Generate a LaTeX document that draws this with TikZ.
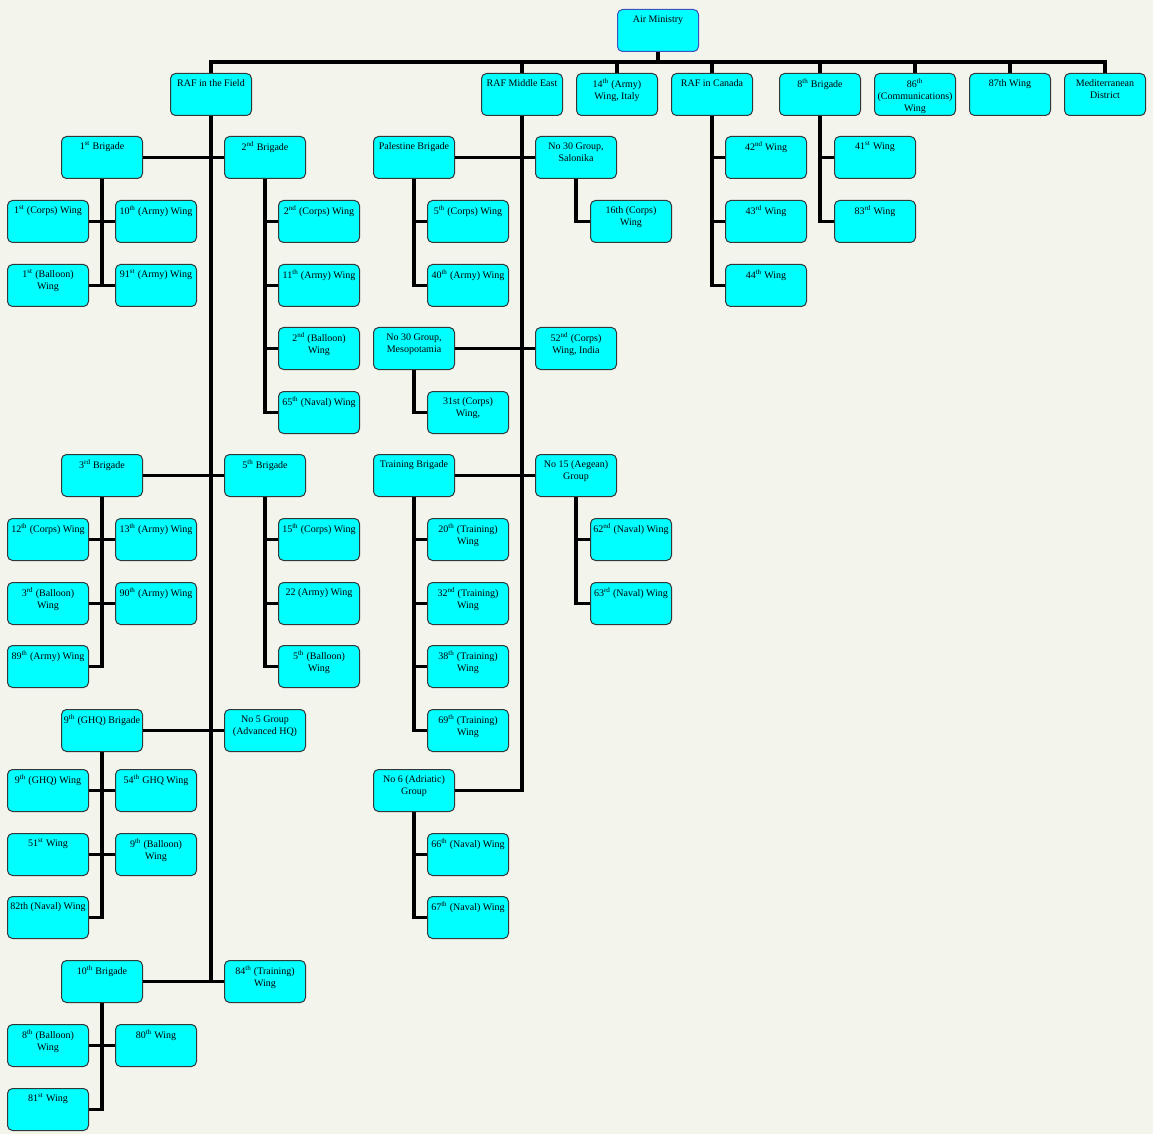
\documentclass[tikz,border=0pt]{standalone}
\usepackage{fontspec}
\setmainfont{Liberation Serif}
\usetikzlibrary{backgrounds}
\pgfdeclarelayer{bg}
\pgfdeclarelayer{lines}
\pgfsetlayers{bg,lines,main}
\definecolor{bgcol}{RGB}{243,245,237}
\definecolor{boxfill}{RGB}{0,255,255}
\definecolor{boxline}{RGB}{50,55,55}
\definecolor{amline}{RGB}{60,80,190}
\newcommand\su[1]{\textsuperscript{#1}}
\newcommand\bx[5][]{\node[ubox,#1] (#2) at (#3,#4) {\parbox[t][24pt][t]{57.75pt}{\centering\strut #5}};}
\tikzset{
  ubox/.style={draw=boxline, line width=0.75pt, fill=boxfill, rounded corners=3.75pt,
    anchor=north west, inner xsep=1.5pt, inner ysep=3.75pt,
    minimum width=60.75pt, minimum height=31.5pt,
    font=\fontsize{7.5}{9}\selectfont},
  conn/.style={line width=2.4pt, black, line join=miter}
}
\begin{document}
\begin{tikzpicture}[x=0.75pt,y=-0.75pt]
\begin{pgfonlayer}{bg}
\fill[bgcol] (0,0) rectangle (1153,1134);
\end{pgfonlayer}
\useasboundingbox (0,0) rectangle (1153,1134);

% top
\bx[draw=amline]{am}{617}{9}{Air Ministry}
\bx{rff}{170}{73}{RAF in the Field}
\bx{rme}{481}{73}{RAF Middle East}
\bx{w14}{576}{73}{14\su{th} (Army)\\Wing, Italy}
\bx{can}{671}{73}{RAF in Canada}
\bx{b8}{779}{73}{8\su{th} Brigade}
\bx{w86}{874}{73}{86\su{th}\\(Communications)\\Wing}
\bx{w87}{969}{73}{87th Wing}
\bx{med}{1064}{73}{Mediterranean\\District}

% RAF in the Field
\bx{b1}{61}{136}{1\su{st} Brigade}
\bx{b2}{224}{136}{2\su{nd} Brigade}
\bx{w1c}{7}{200}{1\su{st} (Corps) Wing}
\bx{w10a}{115}{200}{10\su{th} (Army) Wing}
\bx{w1b}{7}{264}{1\su{st} (Balloon)\\Wing}
\bx{w91a}{115}{264}{91\su{st} (Army) Wing}
\bx{w2c}{278}{200}{2\su{nd} (Corps) Wing}
\bx{w11a}{278}{264}{11\su{th} (Army) Wing}
\bx{w2b}{278}{327}{2\su{nd} (Balloon)\\Wing}
\bx{w65n}{278}{391}{65\su{th} (Naval) Wing}
\bx{b3}{61}{454}{3\su{rd} Brigade}
\bx{b5}{224}{454}{5\su{th} Brigade}
\bx{w12c}{7}{518}{12\su{th} (Corps) Wing}
\bx{w13a}{115}{518}{13\su{th} (Army) Wing}
\bx{w3b}{7}{582}{3\su{rd} (Balloon)\\Wing}
\bx{w90a}{115}{582}{90\su{th} (Army) Wing}
\bx{w89a}{7}{645}{89\su{th} (Army) Wing}
\bx{w15c}{278}{518}{15\su{th} (Corps) Wing}
\bx{w22a}{278}{582}{22 (Army) Wing}
\bx{w5b}{278}{645}{5\su{th} (Balloon)\\Wing}
\bx{b9}{61}{709}{9\su{th} (GHQ) Brigade}
\bx{g5}{224}{709}{No 5 Group\\(Advanced HQ)}
\bx{w9g}{7}{769}{9\su{th} (GHQ) Wing}
\bx{w54}{115}{769}{54\su{th} GHQ Wing}
\bx{w51}{7}{833}{51\su{st} Wing}
\bx{w9b}{115}{833}{9\su{th} (Balloon)\\Wing}
\bx{w82}{7}{896}{82th (Naval) Wing}
\bx{b10}{61}{960}{10\su{th} Brigade}
\bx{w84}{224}{960}{84\su{th} (Training)\\Wing}
\bx{w8b}{7}{1024}{8\su{th} (Balloon)\\Wing}
\bx{w80}{115}{1024}{80\su{th} Wing}
\bx{w81}{7}{1088}{81\su{st} Wing}

% RAF Middle East
\bx{pal}{373}{136}{Palestine Brigade}
\bx{g30s}{535}{136}{No 30 Group,\\Salonika}
\bx{w5c}{427}{200}{5\su{th} (Corps) Wing}
\bx{w40a}{427}{264}{40\su{th} (Army) Wing}
\bx{w16c}{590}{200}{16th (Corps)\\Wing}
\bx{g30m}{373}{327}{No 30 Group,\\Mesopotamia}
\bx{w52c}{535}{327}{52\su{nd} (Corps)\\Wing, India}
\bx{w31c}{427}{391}{31st (Corps)\\Wing,}
\bx{tb}{373}{454}{Training Brigade}
\bx{g15}{535}{454}{No 15 (Aegean)\\Group}
\bx{w20t}{427}{518}{20\su{th} (Training)\\Wing}
\bx{w32t}{427}{582}{32\su{nd} (Training)\\Wing}
\bx{w38t}{427}{645}{38\su{th} (Training)\\Wing}
\bx{w69t}{427}{709}{69\su{th} (Training)\\Wing}
\bx{w62n}{590}{518}{62\su{nd} (Naval) Wing}
\bx{w63n}{590}{582}{63\su{rd} (Naval) Wing}
\bx{g6}{373}{769}{No 6 (Adriatic)\\Group}
\bx{w66n}{427}{833}{66\su{th} (Naval) Wing}
\bx{w67n}{427}{896}{67\su{th} (Naval) Wing}

% Canada
\bx{w42}{725}{136}{42\su{nd} Wing}
\bx{w43}{725}{200}{43\su{rd} Wing}
\bx{w44}{725}{264}{44\su{th} Wing}
% 8th Brigade
\bx{w41}{834}{136}{41\su{st} Wing}
\bx{w83}{834}{200}{83\su{rd} Wing}

\begin{pgfonlayer}{lines}
\coordinate (bar) at (0,62);
\draw[conn] (am.south) -- (am.south |- bar);
\draw[conn] (rff.north) -- (rff.north |- bar) -- (med.north |- bar) -- (med.north);
\foreach \n in {rme,w14,can,b8,w86,w87} \draw[conn] (\n.north) -- (\n.north |- bar);

% RAF in the Field
\draw[conn] (rff.south) -- (rff.south |- b10.east);
\draw[conn] (b1.east) -- (b2.west);
\draw[conn] (b3.east) -- (b5.west);
\draw[conn] (b9.east) -- (g5.west);
\draw[conn] (b10.east) -- (w84.west);
\draw[conn] (b1.south) -- (b1.south |- w1b.east);
\draw[conn] (w1c.east) -- (w10a.west);
\draw[conn] (w1b.east) -- (w91a.west);
\draw[conn] (b2.south) |- (w65n.west);
\foreach \n in {w2c,w11a,w2b} \draw[conn] (b2.south |- \n.west) -- (\n.west);
\draw[conn] (b3.south) |- (w89a.east);
\draw[conn] (w12c.east) -- (w13a.west);
\draw[conn] (w3b.east) -- (w90a.west);
\draw[conn] (b5.south) |- (w5b.west);
\foreach \n in {w15c,w22a} \draw[conn] (b5.south |- \n.west) -- (\n.west);
\draw[conn] (b9.south) |- (w82.east);
\draw[conn] (w9g.east) -- (w54.west);
\draw[conn] (w51.east) -- (w9b.west);
\draw[conn] (b10.south) |- (w81.east);
\draw[conn] (w8b.east) -- (w80.west);

% RAF Middle East
\draw[conn] (rme.south) |- (g6.east);
\draw[conn] (pal.east) -- (g30s.west);
\draw[conn] (g30m.east) -- (w52c.west);
\draw[conn] (tb.east) -- (g15.west);
\draw[conn] (pal.south) |- (w40a.west);
\draw[conn] (pal.south |- w5c.west) -- (w5c.west);
\draw[conn] (g30s.south) |- (w16c.west);
\draw[conn] (g30m.south) |- (w31c.west);
\draw[conn] (tb.south) |- (w69t.west);
\foreach \n in {w20t,w32t,w38t} \draw[conn] (tb.south |- \n.west) -- (\n.west);
\draw[conn] (g15.south) |- (w63n.west);
\draw[conn] (g15.south |- w62n.west) -- (w62n.west);
\draw[conn] (g6.south) |- (w67n.west);
\draw[conn] (g6.south |- w66n.west) -- (w66n.west);

% Canada and 8th Brigade
\draw[conn] (can.south) |- (w44.west);
\foreach \n in {w42,w43} \draw[conn] (can.south |- \n.west) -- (\n.west);
\draw[conn] (b8.south) |- (w83.west);
\draw[conn] (b8.south |- w41.west) -- (w41.west);
\end{pgfonlayer}
\end{tikzpicture}
\end{document}
